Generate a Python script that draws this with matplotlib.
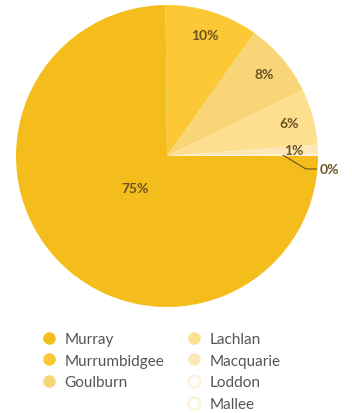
import numpy as np
import matplotlib.pyplot as plt
from matplotlib.lines import Line2D

# share of volume by valley
valleys = ["Murray", "Murrumbidgee", "Goulburn", "Lachlan", "Macquarie", "Loddon", "Mallee"]
shares = [75.0, 10.0, 8.0, 6.0, 1.0, 0.2, 0.0]
colors = ["#F4BD1C", "#FCC835", "#F8D677", "#FDDF8F", "#FDE9B8", "#FDF1D8", "#FDF1D8"]

label_color = "#6B5222"
legend_text = "#555555"
plt.rcParams["font.family"] = ["Lato", "DejaVu Sans"]

fig = plt.figure(figsize=(3.52, 4.14), dpi=100)
ax = fig.add_axes([16 / 352, 1 - 308 / 414, 302 / 352, 302 / 414])

wedges, _ = ax.pie(shares, colors=colors, startangle=0, counterclock=False,
                   radius=1.0, wedgeprops=dict(linewidth=0))
ax.set_xlim(-1, 1)
ax.set_ylim(-1, 1)
ax.set_aspect("equal")
ax.axis("off")

total = sum(shares)
for w, v in zip(wedges, shares):
    pct = 100 * v / total
    if v <= 0:
        continue
    mid = np.deg2rad((w.theta1 + w.theta2) / 2)
    if pct < 0.5:
        # tiny slice: label outside with a leader line
        x0, y0 = 0.77 * np.cos(mid), 0.77 * np.sin(mid)
        ax.plot([x0, 0.92, 0.99], [y0, -0.086, -0.086], color=label_color, lw=0.8,
                clip_on=False)
        ax.text(1.01, -0.086, f"{pct:.0f}%", ha="left", va="center",
                color=label_color, fontsize=10, fontweight="bold")
        continue
    r = 0.3 if pct > 50 else 0.84
    ax.text(r * np.cos(mid), r * np.sin(mid), f"{pct:.0f}%", ha="center", va="center",
            color=label_color, fontsize=10, fontweight="bold")


def handle(i):
    if shares[i] <= 0.5:
        return Line2D([], [], ls="none", marker="o", markersize=8.5,
                      markerfacecolor="white", markeredgecolor=colors[i], markeredgewidth=1.6)
    return Line2D([], [], ls="none", marker="o", markersize=9,
                  markerfacecolor=colors[i], markeredgewidth=0)


cols = [range(0, 3), range(3, 7)]
anchors = [(43 / 352, 1 - 333 / 414), (188 / 352, 1 - 333 / 414)]
for idx, anchor in zip(cols, anchors):
    fig.legend([handle(i) for i in idx], [valleys[i] for i in idx],
               loc="upper left", bbox_to_anchor=anchor, frameon=False,
               fontsize=11, labelcolor=legend_text, handlelength=0.8,
               handletextpad=0.6, labelspacing=0.5, borderaxespad=0, borderpad=0)

fig.savefig("out.png", dpi=100, facecolor="white")
